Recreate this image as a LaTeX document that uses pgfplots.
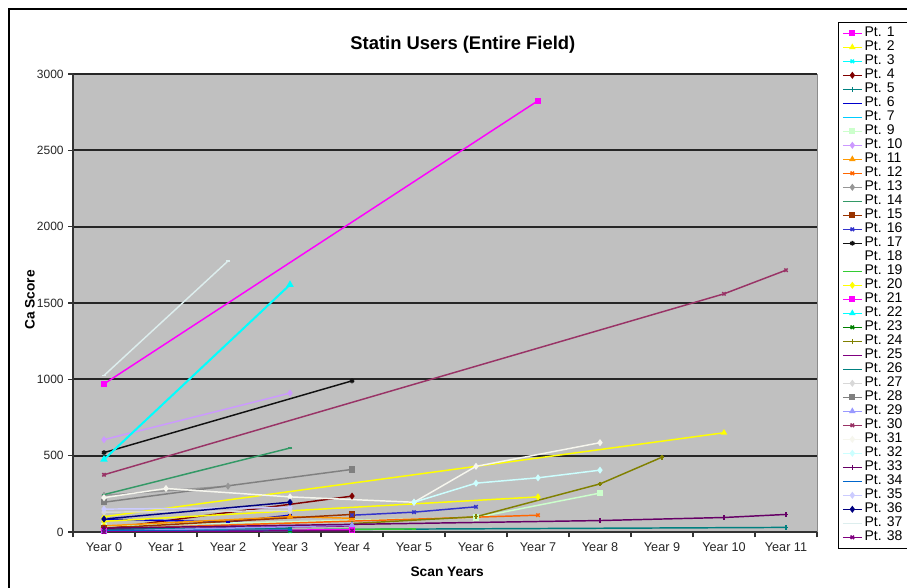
\documentclass[border=0pt]{standalone}
\usepackage{pgfplots}
\pgfplotsset{compat=1.18}
\usepackage{fontspec}
\setmainfont{Liberation Sans}

\definecolor{plotbg}{HTML}{C0C0C0}
\definecolor{c1}{HTML}{FF00FF}
\definecolor{c2}{HTML}{FFFF00}
\definecolor{c3}{HTML}{00FFFF}
\definecolor{c4}{HTML}{800000}
\definecolor{c5}{HTML}{008080}
\definecolor{c6}{HTML}{0000CC}
\definecolor{c7}{HTML}{00CCFF}
\definecolor{c9}{HTML}{CCFFCC}
\definecolor{c10}{HTML}{CC99FF}
\definecolor{c11}{HTML}{FF9900}
\definecolor{c12}{HTML}{FF6600}
\definecolor{c13}{HTML}{969696}
\definecolor{c14}{HTML}{339966}
\definecolor{c15}{HTML}{993300}
\definecolor{c16}{HTML}{3333CC}
\definecolor{c17}{HTML}{111111}
\definecolor{c19}{HTML}{33CC33}
\definecolor{c23}{HTML}{008000}
\definecolor{c24}{HTML}{808000}
\definecolor{c25}{HTML}{800080}
\definecolor{c27}{HTML}{D8D8D8}
\definecolor{c28}{HTML}{808080}
\definecolor{c29}{HTML}{9999FF}
\definecolor{c30}{HTML}{993366}
\definecolor{c31}{HTML}{F6F6EE}
\definecolor{c32}{HTML}{CCFFFF}
\definecolor{c33}{HTML}{660066}
\definecolor{c34}{HTML}{0066CC}
\definecolor{c35}{HTML}{CCCCFF}
\definecolor{c36}{HTML}{000080}
\definecolor{c37}{HTML}{DDEEEE}

% fixed-width legend entry, so the box runs past the right edge as in the original
\newcommand{\legpt}[1]{\addlegendentry{\makebox[31pt][l]{#1}}}
\pgfplotsset{pt/.style={color=#1, draw=#1}}

\begin{document}
\begin{tikzpicture}
\useasboundingbox (0pt,0pt) rectangle (680.25pt,441pt);
% outer chart border
\draw[black, line width=0.9pt] (6.75pt,-15pt) rectangle (720pt,434.25pt);

\begin{axis}[
    at={(54.75pt,42pt)}, anchor=south west,
    scale only axis,
    width=558pt, height=343.5pt,
    xmin=-0.5, xmax=11.5,
    ymin=0, ymax=3000,
    axis x line*=bottom, axis y line*=left,
    axis line style={black!80, line width=1pt},
    axis background/.style={fill=plotbg, draw=black!45},
    xtick={0,...,11},
    xticklabels={Year 0,Year 1,Year 2,Year 3,Year 4,Year 5,Year 6,Year 7,Year 8,Year 9,Year 10,Year 11},
    major x tick style={draw=none},
    minor xtick={-0.5,0.5,...,11.5},
    minor tick length=4pt,
    ytick={0,500,...,3000},
    major tick length=3.5pt,
    tick align=outside,
    tick style={black!80, line width=0.8pt},
    ymajorgrids,
    major grid style={black!85, line width=1.3pt},
    tick label style={font=\fontsize{9.5}{10}\selectfont, black!85},
    yticklabel style={font=\fontsize{9}{10}\selectfont},
    /pgf/number format/assume math mode=true,
    /pgf/number format/1000 sep={},
    xticklabel style={yshift=-1pt},
    title={Statin Users (Entire Field)},
    every axis title/.style={at={(axis description cs:0.524,1.063)}, anchor=center, font=\bfseries\fontsize{13.8}{15}\selectfont},
    xlabel={Scan Years},
    every axis x label/.style={at={(axis description cs:0.503,-0.0873)}, anchor=center, font=\bfseries\fontsize{10.3}{12}\selectfont},
    ylabel={Ca Score},
    every axis y label/.style={at={(axis description cs:-0.058,0.507)}, rotate=90, anchor=center, font=\bfseries\fontsize{10.3}{12}\selectfont},
    mark size=1.8pt,
    every axis plot/.append style={line width=1.1pt, mark options={solid}},
    legend style={at={(axis description cs:1.028,1.1135)}, anchor=north west,
        fill=white,
        font=\fontsize{10.5}{11}\selectfont,
        cells={anchor=west},
        nodes={inner ysep=0pt, inner xsep=1.5pt, text height=7.5pt, text depth=3pt},
        row sep=0pt, inner sep=3pt},
    legend image code/.code={\draw[mark repeat=2,mark phase=2,#1,line width=1.1pt] plot coordinates {(0cm,0cm) (0.25cm,0cm) (0.5cm,0cm)};},
]
\addplot[pt=c1, mark=square*] coordinates {(0,970) (7,2825)};
\legpt{Pt. 1}
\addplot[pt=c2, mark=triangle*] coordinates {(0,100) (10,650)};
\legpt{Pt. 2}
\addplot[pt=c3, mark=x] coordinates {(0,10) (3,5)};
\legpt{Pt. 3}
\addplot[pt=c4, mark=diamond*] coordinates {(0,20) (4,235)};
\legpt{Pt. 4}
\addplot[pt=c5, mark=+] coordinates {(0,10) (11,30)};
\legpt{Pt. 5}
\addplot[pt=c6, mark=-] coordinates {(0,85) (2,65) (3,110)};
\legpt{Pt. 6}
\addplot[pt=c7, mark=-] coordinates {(0,15) (3,10)};
\legpt{Pt. 7}
\addplot[pt=c9, mark=square*] coordinates {(0,40) (6,95) (8,255)};
\legpt{Pt. 9}
\addplot[pt=c10, mark=diamond*] coordinates {(0,605) (3,910)};
\legpt{Pt. 10}
\addplot[pt=c11, mark=triangle*] coordinates {(0,40) (3,100) (4,90)};
\legpt{Pt. 11}
\addplot[pt=c12, mark=x] coordinates {(0,20) (7,110)};
\legpt{Pt. 12}
\addplot[pt=c13, mark=diamond*] coordinates {(0,240) (2,300)};
\legpt{Pt. 13}
\addplot[pt=c14, mark=-] coordinates {(0,245) (3,550)};
\legpt{Pt. 14}
\addplot[pt=c15, mark=square*] coordinates {(0,25) (4,115)};
\legpt{Pt. 15}
\addplot[pt=c16, mark=x] coordinates {(4,110) (5,130) (6,165)};
\legpt{Pt. 16}
\addplot[pt=c17, mark=asterisk] coordinates {(0,520) (4,990)};
\legpt{Pt. 17}
\addlegendimage{empty legend}
\legpt{Pt. 18}
\addplot[pt=c19, mark=-] coordinates {(0,5) (5,20)};
\legpt{Pt. 19}
\addplot[pt=c2, mark=diamond*] coordinates {(0,70) (7,230)};
\legpt{Pt. 20}
\addplot[pt=c1, mark=square*] coordinates {(0,5) (4,15)};
\legpt{Pt. 21}
\addplot[pt=c3, mark=triangle*, line width=1.5pt] coordinates {(0,475) (3,1620)};
\legpt{Pt. 22}
\addplot[pt=c23, mark=x] coordinates {(0,3) (3,8)};
\legpt{Pt. 23}
\addplot[pt=c24, mark=+] coordinates {(4,55) (6,100) (8,315) (9,490)};
\legpt{Pt. 24}
\addplot[pt=c25, mark=-] coordinates {(0,15) (4,40)};
\legpt{Pt. 25}
\addplot[pt=c5, mark=-] coordinates {(0,20) (3,25)};
\legpt{Pt. 26}
\addplot[pt=c27, mark=diamond*] coordinates {(0,130) (3,140)};
\legpt{Pt. 27}
\addplot[pt=c28, mark=square*] coordinates {(0,195) (4,410)};
\legpt{Pt. 28}
\addplot[pt=c29, mark=triangle*] coordinates {(0,5) (4,45)};
\legpt{Pt. 29}
\addplot[pt=c30, mark=x] coordinates {(0,375) (10,1560) (11,1715)};
\legpt{Pt. 30}
\addplot[pt=c31, mark=diamond*] coordinates {(0,225) (1,285) (3,230) (5,195) (6,430) (8,585)};
\legpt{Pt. 31}
\addplot[pt=c32, mark=diamond*] coordinates {(5,195) (6,320) (7,355) (8,405)};
\legpt{Pt. 32}
\addplot[pt=c33, mark=+] coordinates {(0,25) (8,75) (10,95) (11,115)};
\legpt{Pt. 33}
\addplot[pt=c34, mark=-] coordinates {(0,8) (3,12)};
\legpt{Pt. 34}
\addplot[pt=c35, mark=diamond*] coordinates {(0,150) (3,160)};
\legpt{Pt. 35}
\addplot[pt=c36, mark=diamond*] coordinates {(0,85) (3,195)};
\legpt{Pt. 36}
\addplot[pt=c37, mark=-] coordinates {(0,1025) (2,1775)};
\legpt{Pt. 37}
\addplot[pt=c25, mark=x] coordinates {(0,0) (4,10)};
\legpt{Pt. 38}
\end{axis}
\end{tikzpicture}
\end{document}
